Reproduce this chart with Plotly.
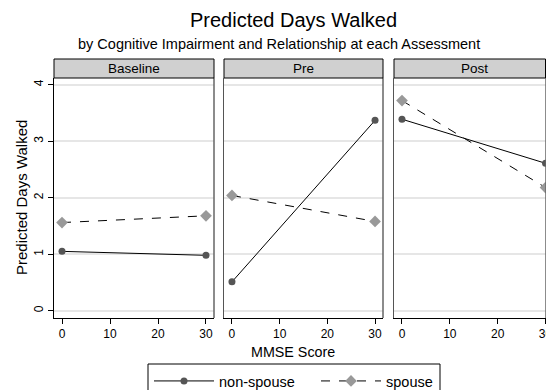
import plotly.graph_objects as go

W, H = 546, 390

assessments = ["Baseline", "Pre", "Post"]
mmse = [0, 30]
nonspouse = [[1.05, 0.98], [0.51, 3.37], [3.39, 2.61]]
spouse = [[1.56, 1.68], [2.04, 1.58], [3.72, 2.18]]
series_names = ["non-spouse", "spouse"]
x_ticks = [0, 10, 20, 30]
y_ticks = [0, 1, 2, 3, 4]

FONT = "Liberation Sans, Arial, Helvetica, sans-serif"

def px(x):
    return x / W

def py(y):
    return 1 - y / H

panels_px = [(54, 214), (224, 383), (394, 546)]
top_px, bottom_px = 78, 318
strip_top_px = 59
xr = [[-1.67, 31.67], [-1.67, 31.67], [-1.67, 30.1]]

fig = go.Figure()

for i in range(len(assessments)):
    ax = "" if i == 0 else str(i + 1)
    fig.add_trace(go.Scatter(
        x=mmse, y=nonspouse[i], mode="lines+markers",
        name=series_names[0], legendgroup="ns", showlegend=(i == 0),
        line=dict(color="black", width=1),
        marker=dict(symbol="circle", size=7, color="#555555"),
        xaxis="x" + ax, yaxis="y" + ax, cliponaxis=True))
    fig.add_trace(go.Scatter(
        x=mmse, y=spouse[i], mode="lines+markers",
        name=series_names[1], legendgroup="sp", showlegend=(i == 0),
        line=dict(color="black", width=1, dash="dash"),
        marker=dict(symbol="diamond", size=9, color="#999999"),
        xaxis="x" + ax, yaxis="y" + ax, cliponaxis=True))

layout = dict(
    width=W, height=H,
    margin=dict(l=0, r=0, t=0, b=0, autoexpand=False),
    paper_bgcolor="white", plot_bgcolor="white",
    font=dict(family=FONT, color="black", size=12),
    showlegend=True,
    legend=dict(orientation="h", x=px(149), xanchor="left",
                y=py(365), yanchor="top", bgcolor="rgba(0,0,0,0)",
                borderwidth=0,
                font=dict(size=14.5), itemwidth=60,
                entrywidth=92, entrywidthmode="pixels", tracegroupgap=0),
)

shapes = []
annotations = []
for i, (l, r) in enumerate(panels_px):
    ax = "" if i == 0 else str(i + 1)
    layout["xaxis" + ax] = dict(
        domain=[px(l), px(r)], range=xr[i], anchor="y" + ax,
        tickvals=x_ticks, ticks="outside", ticklen=5, tickcolor="black",
        ticklabeloverflow="allow",
        showline=True, linecolor="black", linewidth=1, showgrid=False,
        zeroline=False, tickfont=dict(size=12), fixedrange=True)
    layout["yaxis" + ax] = dict(
        domain=[py(bottom_px), py(top_px)], range=[-0.13, 4.12],
        anchor="x" + ax, tickvals=y_ticks,
        ticks="outside" if i == 0 else "", ticklen=5, tickcolor="black",
        showticklabels=(i == 0), tickangle=-90,
        showline=True, linecolor="black" if i == 0 else "#555555", linewidth=1,
        showgrid=True, gridcolor="#e6e6e6", gridwidth=1.5,
        zeroline=False, tickfont=dict(size=12), fixedrange=True)
    shapes.append(dict(type="line", xref="paper", yref="paper",
                       x0=px(r), x1=px(r), y0=py(bottom_px), y1=py(top_px),
                       line=dict(color="#666666", width=1.5)))
    shapes.append(dict(type="rect", xref="paper", yref="paper",
                       x0=px(l), x1=px(min(r, W - 0.5)), y0=py(top_px), y1=py(strip_top_px),
                       fillcolor="#d0d0d0", line=dict(color="black", width=1)))
    annotations.append(dict(text=assessments[i], xref="paper", yref="paper",
                            x=px((l + (r if i < 2 else 554)) / 2),
                            y=py((top_px + strip_top_px) / 2),
                            showarrow=False, font=dict(size=13.5),
                            xanchor="center", yanchor="middle"))

# legend frame
shapes.append(dict(type="rect", xref="paper", yref="paper",
                   x0=px(148), x1=px(440), y0=py(394), y1=py(364),
                   line=dict(color="black", width=1), fillcolor="rgba(0,0,0,0)"))

annotations += [
    dict(text="Predicted Days Walked", xref="paper", yref="paper",
         x=px(293), y=py(20), showarrow=False, font=dict(size=20),
         xanchor="center", yanchor="middle"),
    dict(text="by Cognitive Impairment and Relationship at each Assessment",
         xref="paper", yref="paper", x=px(279), y=py(44), showarrow=False,
         font=dict(size=14.5), xanchor="center", yanchor="middle"),
    dict(text="Predicted Days Walked", xref="paper", yref="paper",
         x=px(21), y=py(198), showarrow=False, textangle=-90,
         font=dict(size=15), xanchor="center", yanchor="middle"),
    dict(text="MMSE Score", xref="paper", yref="paper",
         x=px(293), y=py(352), showarrow=False, font=dict(size=14.3),
         xanchor="center", yanchor="middle"),
]

layout["shapes"] = shapes
layout["annotations"] = annotations
fig.update_layout(**layout)

fig.write_html("out.html", config={"displayModeBar": False},
               post_script="document.body.style.margin='0';document.body.style.overflow='hidden';")
